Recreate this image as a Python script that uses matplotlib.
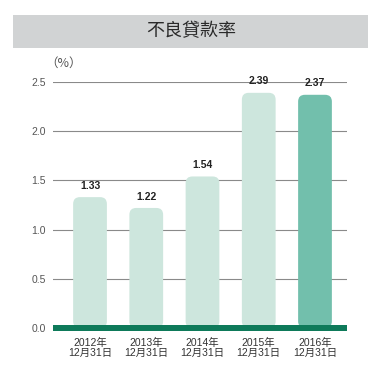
import matplotlib
matplotlib.use("Agg")
import matplotlib.pyplot as plt
from matplotlib.patches import FancyBboxPatch, Rectangle

FAM = ['Liberation Sans', 'Noto Sans CJK TC', 'DejaVu Sans']
plt.rcParams['font.family'] = FAM

years = ["2012年", "2013年", "2014年", "2015年", "2016年"]
dates = ["12月31日"] * 5
values = [1.33, 1.22, 1.54, 2.39, 2.37]
bar_colors = ["#cde6dd", "#cde6dd", "#cde6dd", "#cde6dd", "#72bfac"]
title = "不良貸款率"
yticks = [0.0, 0.5, 1.0, 1.5, 2.0, 2.5]

W, H = 381, 370
fig = plt.figure(figsize=(W / 100, H / 100), dpi=100)

# title bar
fig.patches.append(Rectangle((13 / W, 1 - 48 / H), (368 - 13) / W, 33 / H,
                             transform=fig.transFigure, facecolor="#d1d3d4",
                             edgecolor="none", zorder=0))
fig.text(191 / W, 1 - 31 / H, title, ha="center", va="center", fontsize=13,
         color="#2a2a2a", family=['Noto Sans CJK TC', 'DejaVu Sans'])

ax_left, ax_right = 53, 347
ax_bottom, ax_top = 328, 82
ax = fig.add_axes([ax_left / W, 1 - ax_bottom / H, (ax_right - ax_left) / W,
                   (ax_bottom - ax_top) / H])
ax.set_ylim(0, 2.5)
ax.set_xlim(-0.658, 4.569)

for s in ax.spines.values():
    s.set_visible(False)
ax.set_yticks(yticks)
ax.set_yticklabels([f"{v:.1f}" for v in yticks], fontsize=7.5, color="#555555")
ax.tick_params(axis="y", length=0, pad=5)
for v in yticks[1:]:
    ax.axhline(v, color="#8a8a8a", lw=0.8, zorder=1)

xpx = (ax_right - ax_left) / (4.569 + 0.658)
ypx = (ax_bottom - ax_top) / 2.5
aspect = (1 / ypx) / (1 / xpx)
bw = 0.6
for i, (v, c) in enumerate(zip(values, bar_colors)):
    p = FancyBboxPatch((i - bw / 2, 0), bw, v,
                       boxstyle="round,pad=0,rounding_size=0.12",
                       mutation_aspect=aspect, facecolor=c, edgecolor="none",
                       zorder=2)
    ax.add_patch(p)
    ax.text(i, v + 0.065, f"{v:.2f}", ha="center", va="bottom", fontsize=7.5,
            fontweight="bold", color="#222222", zorder=4)

# baseline
ax.add_patch(Rectangle((-0.658, -0.035), 4.569 + 0.658, 0.07,
                       facecolor="#0e7a5a", edgecolor="none", zorder=3,
                       clip_on=False))

ax.set_xticks(range(len(values)))
ax.set_xticklabels([f"{y}\n{d}" for y, d in zip(years, dates)], fontsize=7.5,
                   color="#333333", linespacing=1.0)
ax.tick_params(axis="x", length=0, pad=7)

fig.text(64 / W, 1 - 63 / H, "（%）", fontsize=9, color="#555555",
         ha="center", va="center", family=['Noto Sans CJK TC', 'DejaVu Sans'])

fig.savefig("out.png", dpi=100)
